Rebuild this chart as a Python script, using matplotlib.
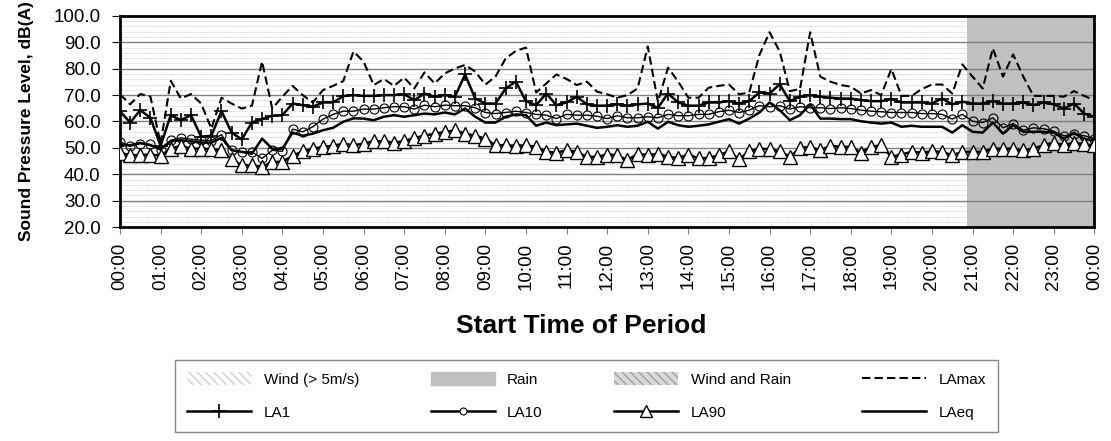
import numpy as np
from matplotlib import pyplot as plt
from matplotlib.patches import Patch
from matplotlib.lines import Line2D

plt.rcParams['font.family'] = ['Liberation Sans', 'DejaVu Sans']

# 15 minute periods, 00:00 .. 24:00
hour_labels = ["%02d:00" % h for h in range(24)] + ["00:00"]

la_max = [70.3, 66.5, 70.4, 69.4, 51.6, 75.4, 68.7, 70.4, 66.8, 57.3, 69.0, 66.8, 64.9, 66.0, 82.7, 64.9, 69.4, 73.5, 70.0, 67.2, 71.9, 73.5, 75.3, 86.5,
          82.7, 73.8, 76.1, 73.5, 76.6, 72.5, 78.6, 74.4, 78.2, 80.1, 81.4, 78.9, 74.0, 77.0, 83.9, 86.7, 88.0, 71.0, 74.4, 77.8, 76.1, 73.8, 75.1, 71.3,
          70.3, 69.0, 70.0, 72.5, 88.4, 67.5, 80.4, 75.1, 69.0, 69.0, 72.8, 73.5, 74.0, 70.3, 71.0, 85.2, 93.8, 86.5, 71.5, 72.3, 93.8, 77.0, 75.1, 73.8,
          73.2, 70.6, 71.9, 70.0, 79.9, 69.7, 69.7, 72.3, 74.0, 74.0, 70.6, 81.6, 77.0, 72.5, 87.7, 77.0, 85.4, 77.0, 69.7, 69.7, 69.7, 69.4, 71.5, 69.7, 68.1]

la1 = [63.9, 59.6, 64.3, 61.4, 50.8, 62.4, 60.5, 62.4, 54.2, 54.6, 63.9, 55.8, 53.2, 59.6, 60.9, 62.2, 62.4, 66.8, 66.2, 65.6, 67.2, 67.2, 69.6, 70.0,
       69.7, 69.7, 70.0, 70.0, 70.3, 68.1, 70.6, 69.4, 70.0, 69.4, 77.8, 68.7, 66.8, 66.8, 72.5, 75.1, 67.7, 66.2, 70.6, 66.2, 67.2, 69.4, 66.5, 66.0,
       66.0, 66.5, 66.0, 66.5, 66.8, 65.2, 70.6, 67.2, 66.0, 66.0, 67.2, 67.2, 67.7, 66.8, 67.7, 71.0, 70.6, 74.1, 67.7, 69.4, 70.0, 69.4, 69.0, 68.7,
       68.7, 68.1, 67.7, 67.7, 68.5, 67.2, 67.2, 67.2, 66.8, 68.7, 66.5, 67.5, 66.8, 66.8, 67.7, 66.8, 66.8, 67.2, 66.2, 67.2, 66.5, 64.9, 66.8, 63.0, 61.8]

la10 = [52.3, 50.6, 51.6, 51.3, 49.1, 52.9, 53.8, 53.3, 52.9, 52.8, 55.0, 49.1, 48.5, 48.5, 46.0, 49.1, 48.7, 57.1, 56.1, 58.0, 60.9, 62.7, 63.9, 63.9,
        64.7, 64.7, 65.2, 65.6, 65.6, 64.7, 66.2, 65.6, 66.2, 66.0, 66.0, 65.2, 63.4, 63.0, 63.4, 63.9, 63.4, 62.7, 62.4, 61.1, 62.7, 62.4, 62.4, 62.0,
        61.1, 62.2, 61.4, 61.4, 61.8, 61.4, 62.7, 62.2, 62.2, 62.7, 62.7, 63.7, 64.3, 63.4, 64.3, 66.0, 65.6, 66.0, 64.7, 65.6, 65.2, 65.2, 64.9, 65.2,
        64.9, 64.3, 63.9, 63.7, 63.4, 63.4, 63.4, 63.0, 63.0, 62.7, 60.9, 62.7, 60.1, 59.6, 61.4, 57.6, 59.2, 56.7, 57.6, 57.3, 56.3, 54.6, 55.1, 54.6, 53.5]

la90 = [48.2, 47.2, 47.2, 47.5, 47.0, 49.7, 50.8, 49.7, 49.7, 49.5, 49.1, 45.7, 43.4, 43.4, 42.8, 44.7, 44.7, 47.0, 48.7, 49.7, 50.4, 50.8, 51.6, 51.0,
        51.6, 52.5, 52.5, 52.0, 52.5, 53.8, 54.6, 55.4, 56.0, 56.7, 55.4, 54.6, 53.5, 51.0, 51.0, 50.8, 51.0, 50.4, 48.5, 48.2, 49.1, 48.5, 46.6, 46.6,
        47.5, 47.2, 45.3, 47.8, 47.2, 47.8, 46.6, 46.2, 47.5, 46.0, 46.2, 47.2, 48.7, 45.7, 48.7, 49.7, 49.5, 48.7, 46.6, 50.0, 50.4, 49.1, 50.8, 50.4,
        50.4, 48.2, 50.4, 51.0, 46.6, 47.5, 48.5, 48.2, 48.7, 48.5, 47.2, 48.5, 48.5, 48.5, 49.7, 49.7, 49.7, 49.1, 49.7, 51.0, 52.0, 51.0, 52.0, 51.3, 51.0]

la_eq = [51.0, 51.0, 51.9, 51.0, 49.7, 52.5, 52.9, 52.5, 52.0, 52.0, 53.8, 49.1, 48.5, 47.8, 53.5, 49.7, 49.7, 55.8, 54.6, 55.4, 56.7, 57.6, 59.9, 61.2,
         61.1, 60.5, 61.8, 62.4, 61.8, 62.4, 63.0, 62.7, 63.4, 62.7, 64.9, 61.8, 59.6, 59.6, 61.8, 62.7, 62.4, 58.4, 59.6, 58.6, 58.9, 59.2, 58.4, 57.6,
         58.0, 58.6, 58.0, 58.4, 59.9, 57.3, 59.9, 58.6, 58.0, 58.4, 58.9, 59.9, 60.9, 59.2, 61.1, 63.4, 67.2, 64.3, 60.5, 62.4, 66.5, 61.1, 61.1, 60.9,
         60.9, 60.1, 59.6, 59.2, 59.6, 58.0, 58.4, 58.0, 58.0, 58.0, 55.8, 58.6, 56.1, 55.8, 59.6, 55.4, 58.6, 56.1, 56.1, 56.1, 55.8, 53.5, 55.8, 53.3, 52.9]

# rain flag per period (1 = raining), 21:00 onwards
rain = [0] * 84 + [1] * 13

x = np.arange(len(la_max))

fig = plt.figure(figsize=(11.11, 4.41), dpi=100)
ax = fig.add_axes([0.108, 0.485, 0.877, 0.479])

# rain shading: periods drawn as full-width columns
for i, r in enumerate(rain):
    if r:
        ax.axvspan(i - 0.5, i + 0.5, color='#c0c0c0', lw=0, zorder=0)

ax.plot(x, la_max, color='black', lw=1.5, ls=(0, (4, 2)), zorder=3)
ax.plot(x, la1, color='black', lw=1.8, marker='+', ms=10, mew=1.2, zorder=3)
ax.plot(x, la10, color='black', lw=1.0, marker='o', ms=6.5, mfc='none', mec='black', mew=0.8, zorder=3)
ax.plot(x, la90, color='black', lw=1.8, marker='^', ms=10, mfc='white', mec='black', mew=1.0, zorder=4)
ax.plot(x, la_eq, color='black', lw=1.8, zorder=3)

ax.set_xlim(0, 96)
ax.set_ylim(20, 100)
ax.set_yticks(np.arange(20, 101, 10))
ax.set_yticklabels(["%.1f" % v for v in range(20, 101, 10)], fontsize=13.5)
ax.set_yticks(np.arange(20, 101, 2), minor=True)
ax.set_xticks(np.arange(0, 97, 4))
ax.set_xticklabels(hour_labels, rotation=90, fontsize=13.5)
ax.tick_params(axis='x', which='both', length=5, color='#808080', pad=6)
ax.tick_params(axis='y', which='major', length=6, pad=8)
ax.tick_params(axis='y', which='minor', length=0)

ax.grid(axis='y', which='major', color='#808080', lw=1.0, zorder=1)
ax.grid(axis='y', which='minor', color='#c8c8c8', lw=0.6, ls=(0, (1, 1)), zorder=1)
ax.set_axisbelow(True)
for s in ax.spines.values():
    s.set_linewidth(2)
    s.set_color('black')

ax.set_ylabel("Sound Pressure Level, dB(A)", fontsize=12.5, fontweight='bold', labelpad=14)
ax.set_xlabel("Start Time of Period", fontsize=19, fontweight='bold')
ax.xaxis.set_label_coords(0.473, -0.41)

handles = [
    Patch(facecolor='white', edgecolor='#d0d0d0', hatch='\\\\\\\\', lw=0),
    Line2D([], [], color='black', lw=1.8, marker='+', ms=10, mew=1.2),
    Patch(facecolor='#c0c0c0', edgecolor='#c0c0c0'),
    Line2D([], [], color='black', lw=1.8, marker='o', ms=5, mfc='white', mec='black', mew=0.8),
    Patch(facecolor='#d8d8d8', edgecolor='#a0a0a0', hatch='\\\\\\\\', lw=0),
    Line2D([], [], color='black', lw=1.8, marker='^', ms=8, mfc='white', mec='black', mew=1.0),
    Line2D([], [], color='black', lw=1.5, ls=(0, (4, 2))),
    Line2D([], [], color='black', lw=1.8),
]
labels = ["Wind (> 5m/s)", "LA1", "Rain", "LA10", "Wind and Rain", "LA90", "LAmax", "LAeq"]
leg = fig.legend(handles, labels, ncol=4, loc='lower left', mode='expand',
                 bbox_to_anchor=(0.1575, 0.02, 0.741, 0.159), borderaxespad=0, fontsize=11,
                 handlelength=4.2, handleheight=0.9, labelspacing=1.2, borderpad=0.8,
                 fancybox=False, edgecolor='#888888', framealpha=1)
leg.get_frame().set_linewidth(1.0)

fig.savefig("out.png", dpi=100)
